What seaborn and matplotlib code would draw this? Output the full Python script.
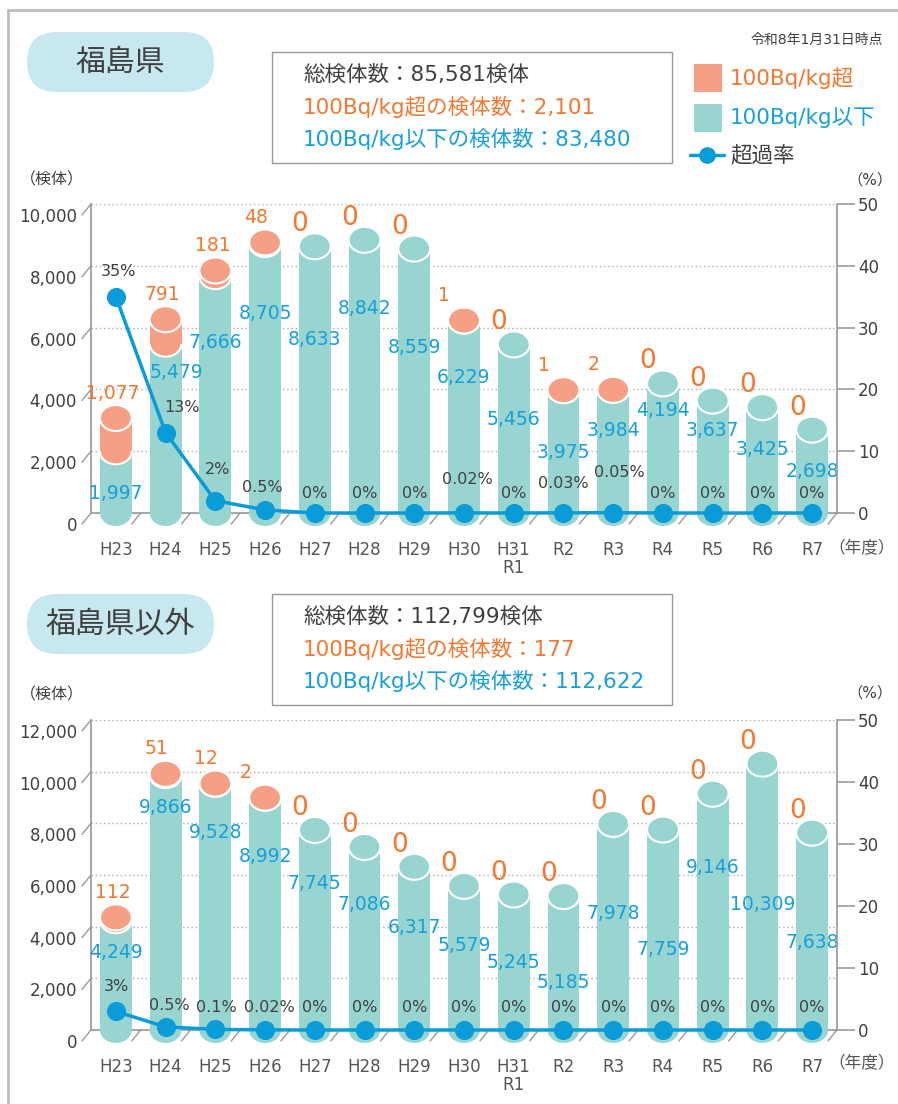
import pandas as pd
import matplotlib.pyplot as plt
import seaborn as sns
from matplotlib.patches import Ellipse, Rectangle, FancyBboxPatch
from matplotlib.lines import Line2D
from matplotlib.transforms import IdentityTransform

# ---- data ----
years = ['H23', 'H24', 'H25', 'H26', 'H27', 'H28', 'H29', 'H30', 'H31\nR1',
         'R2', 'R3', 'R4', 'R5', 'R6', 'R7']

fuku_below = [1997, 5479, 7666, 8705, 8633, 8842, 8559, 6229, 5456, 3975, 3984, 4194, 3637, 3425, 2698]
fuku_over = [1077, 791, 181, 48, 0, 0, 0, 1, 0, 1, 2, 0, 0, 0, 0]
fuku_rate = [35, 13, 2, 0.5, 0, 0, 0, 0.02, 0, 0.03, 0.05, 0, 0, 0, 0]

other_below = [4249, 9866, 9528, 8992, 7745, 7086, 6317, 5579, 5245, 5185, 7978, 7759, 9146, 10309, 7638]
other_over = [112, 51, 12, 2, 0, 0, 0, 0, 0, 0, 0, 0, 0, 0, 0]
other_rate = [3, 0.5, 0.1, 0.02, 0, 0, 0, 0, 0, 0, 0, 0, 0, 0, 0]

fuku_summary = ['総検体数：85,581検体', '100Bq/kg超の検体数：2,101', '100Bq/kg以下の検体数：83,480']
other_summary = ['総検体数：112,799検体', '100Bq/kg超の検体数：177', '100Bq/kg以下の検体数：112,622']

# label layout (where the blue numbers sit, in data units; offsets in pixels)
fuku_below_lab_y = [647, 4531, 5502, 6472, 5599, 6634, 5340, 4401, 3010, 1974, 2654, 3333, 2686, 2039, 1327]
other_below_lab_y = [2981, 8594, 7626, 6735, 5690, 4839, 3987, 3252, 2632, 1858, 4529, 3135, 6271, 4877, 3368]
fuku_rate_dx = [3, 16, 2, -3, 0, 0, 0, 3, 0, 0, 6, 0, 0, 0, 0]
fuku_rate_dy = [25, 25, 31, 22, 20, 20, 20, 33, 20, 29, 40, 20, 20, 20, 20]
other_rate_dx = [1, 4, 1, 4, 0, 0, 0, 0, 0, 0, 0, 0, 0, 0, 0]
other_rate_dy = [25, 21, 22, 22, 22, 22, 22, 22, 22, 22, 22, 22, 22, 22, 22]

TEAL = '#98D5D1'
SALMON = '#F5A085'
ORANGE = '#F07830'
BLUE = '#169FDB'
LINE = '#0A9CD9'
DARK = '#404040'
GRAY = '#9A9A9A'

W, H = 898, 1104

sns.set_theme(style='white')
# DejaVu for latin/digits (wide like the original), Noto CJK for Japanese
plt.rcParams['font.family'] = ['DejaVu Sans', 'Noto Sans CJK JP']

fig = plt.figure(figsize=(W / 100, H / 100), dpi=100)
fig.patch.set_facecolor('white')


def fig_text(x, y, s, **kw):
    fig.text(x / W, 1 - y / H, s, **kw)


def draw_panel(zero_px, top_px, ymax, ymin, below, over, rate, lab_y, rate_dx, rate_dy):
    ppu = (zero_px - top_px) / ymax
    bottom_px = zero_px - ymin * ppu
    ax = fig.add_axes([91 / W, 1 - bottom_px / H, 746 / W, (bottom_px - top_px) / H])
    n = len(years)
    total = [b + o for b, o in zip(below, over)]
    bw = 0.64
    eh = 26 / ppu

    df = pd.DataFrame({'year': years, 'below': below})
    sns.barplot(data=df, x='year', y='below', color=TEAL, width=bw, saturation=1,
                ax=ax, zorder=2, linewidth=0)
    ax.bar(range(n), over, bottom=below, width=bw, color=SALMON, linewidth=0, zorder=4)
    for i in range(n):
        ax.add_patch(Ellipse((i, 0), bw, eh, facecolor=TEAL, edgecolor='none', zorder=2))
        if over[i] > 0:
            # orange cylinder starts at the junction: front arc in white
            ax.add_patch(Ellipse((i, below[i]), bw, eh, facecolor=SALMON, edgecolor='white', lw=1.5, zorder=3.5))
            ax.add_patch(Ellipse((i, total[i]), bw, eh, facecolor=SALMON, edgecolor='white', lw=1.5, zorder=5))
        else:
            ax.add_patch(Ellipse((i, below[i]), bw, eh, facecolor=TEAL, edgecolor='white', lw=1.5, zorder=3))

    ax.set_xlim(-0.5, n - 0.5)
    ax.set_ylim(ymin, ymax)
    ax.set_yticks(range(0, ymax + 1, 2000))
    ax.yaxis.grid(True, color='#AAAAAA', linestyle=(0, (1, 2)), linewidth=1)
    ax.set_axisbelow(True)
    ax.axhline(0, color=GRAY, lw=1.2, zorder=1.5)
    for s in ['top', 'right', 'bottom']:
        ax.spines[s].set_visible(False)
    ax.spines['left'].set_bounds(0, ymax)
    ax.spines['left'].set_color(GRAY)
    ax.tick_params(axis='y', length=0, labelleft=False)
    ax.set_xlabel('')
    ax.set_ylabel('')

    # left tick labels drawn on the front plane with slanted ticks
    for t in range(0, ymax + 1, 2000):
        ax.annotate(f'{t:,}', xy=(0, t), xycoords=('axes fraction', 'data'),
                    xytext=(-14, -13), textcoords='offset pixels', ha='right', va='center',
                    fontsize=12, color=DARK)
        ax.annotate('', xy=(0, t), xycoords=('axes fraction', 'data'),
                    xytext=(-9, -11), textcoords='offset pixels',
                    arrowprops=dict(arrowstyle='-', color=GRAY, lw=1, shrinkA=0, shrinkB=0))
    for i in range(n):
        ax.annotate('', xy=(i + 0.5, 0), xytext=(-9, -11), textcoords='offset pixels',
                    arrowprops=dict(arrowstyle='-', color=GRAY, lw=1, shrinkA=0, shrinkB=0))

    # value labels
    for i in range(n):
        dx = 0.22 if i == 1 and ymax == 10000 else 0
        ax.text(i + dx, lab_y[i], f'{below[i]:,}', color=BLUE, ha='center', va='center',
                fontsize=13.5, zorder=6)
        if over[i] == 0:
            ax.annotate('0', xy=(i, total[i]), xytext=(-15, 22), textcoords='offset pixels',
                        ha='center', va='center', color=ORANGE, fontsize=19, zorder=6)
        else:
            odx = -20 if over[i] < 10 else (-9 if over[i] < 100 else -3)
            ax.annotate(f'{over[i]:,}', xy=(i, total[i]), xytext=(odx, 25), textcoords='offset pixels',
                        ha='center', va='center', color=ORANGE, fontsize=13.5, zorder=6)

    # exceed rate line on the right axis
    ax2 = ax.twinx()
    sns.lineplot(x=list(range(n)), y=rate, ax=ax2, color=LINE, linewidth=2.5, marker='o',
                 markersize=13, markeredgecolor=LINE, zorder=7)
    ax2.set_ylim(ymin / ymax * 50, 50)
    ax2.set_yticks(range(0, 51, 10))
    for s in ['top', 'left', 'bottom']:
        ax2.spines[s].set_visible(False)
    ax2.spines['right'].set_bounds(0, 50)
    ax2.spines['right'].set_color(GRAY)
    ax2.tick_params(axis='y', length=13, width=1.2, color=GRAY, pad=2,
                    labelsize=12, labelcolor=DARK, right=True, direction='out')
    ax2.set_ylabel('')
    for i in range(n):
        ax2.annotate(f'{rate[i]:g}%', xy=(i, rate[i]), xytext=(rate_dx[i], rate_dy[i]),
                     textcoords='offset pixels', ha='center', va='center',
                     color=DARK, fontsize=11.5)
    ax2.set_xlim(-0.5, n - 0.5)

    ax.set_xticks(range(n))
    ax.set_xticklabels(years, linespacing=1.0)
    ax.tick_params(axis='x', length=0, pad=7, labelsize=12, labelcolor='#555555')
    return ax


draw_panel(513, 204, 10000, -600, fuku_below, fuku_over, fuku_rate,
           fuku_below_lab_y, fuku_rate_dx, fuku_rate_dy)
draw_panel(1030, 720, 12000, -700, other_below, other_over, other_rate,
           other_below_lab_y, other_rate_dx, other_rate_dy)

# ---- decorations ----
# outer frame
fig.add_artist(Line2D([8 / W, 8 / W], [0, 1 - 10 / H], color='#BDBDBD', lw=2))
fig.add_artist(Line2D([8 / W, 1], [1 - 10 / H, 1 - 10 / H], color='#BDBDBD', lw=2))

for (y_top, title, summary, unit_y, pct_y, nendo_y) in [
        (32, '福島県', fuku_summary, 180, 180, 548),
        (594, '福島県以外', other_summary, 695, 693, 1063)]:
    fig.add_artist(FancyBboxPatch((27, H - y_top - 60), 187, 60,
                                  boxstyle='round,pad=0,rounding_size=30',
                                  facecolor='#C8E8EF', edgecolor='none',
                                  transform=IdentityTransform()))
    fig_text(120, y_top + 30, title, ha='center', va='center', fontsize=21.5, color=DARK)
    box_top = 52 if y_top == 32 else 594
    fig.add_artist(Rectangle((272, H - box_top - 111), 400, 111, facecolor='white',
                             edgecolor=GRAY, lw=1, transform=IdentityTransform()))
    for k, (line, col) in enumerate(zip(summary, [DARK, ORANGE, BLUE])):
        fig_text(303, box_top + 23 + 32 * k, line, ha='left', va='center',
                 fontsize=15.5, color=col)
    fig_text(52, unit_y, '（検体）', ha='center', va='center', fontsize=11.5, color=DARK)
    fig_text(870, pct_y, '（%）', ha='center', va='center', fontsize=11, color=DARK)
    fig_text(862, nendo_y, '（年度）', ha='center', va='center', fontsize=12, color='#555555')

# date + legend
fig_text(883, 40, '令和8年1月31日時点', ha='right', va='center', fontsize=10, color=DARK)
fig.add_artist(Rectangle((694, H - 92), 28, 28, facecolor=SALMON, edgecolor='none',
                         transform=IdentityTransform()))
fig.add_artist(Rectangle((694, H - 132), 28, 28, facecolor=TEAL, edgecolor='none',
                         transform=IdentityTransform()))
fig_text(730, 78, '100Bq/kg超', ha='left', va='center', fontsize=15.5, color=ORANGE)
fig_text(730, 118, '100Bq/kg以下', ha='left', va='center', fontsize=15.5, color=BLUE)
fig.add_artist(Line2D([690 / W, 724 / W], [1 - 155 / H, 1 - 155 / H], color=LINE, lw=2.5))
fig.add_artist(Line2D([707 / W], [1 - 155 / H], color=LINE, marker='o', markersize=11,
                      linestyle='none'))
fig_text(730, 155, '超過率', ha='left', va='center', fontsize=15.5, color=DARK)

fig.savefig('out.png', dpi=100)
